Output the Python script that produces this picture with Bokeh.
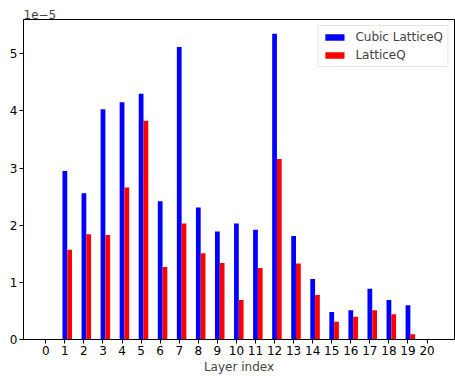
from bokeh.plotting import figure
from bokeh.models import ColumnDataSource, FixedTicker, CustomJSTickFormatter, Legend, LegendItem, Range1d
from bokeh.embed import file_html
from bokeh.resources import INLINE

layers = list(range(1, 20))
cubic_latticeq = [2.95e-5, 2.56e-5, 4.03e-5, 4.15e-5, 4.30e-5, 2.42e-5, 5.12e-5, 2.31e-5, 1.89e-5,
                  2.03e-5, 1.92e-5, 5.35e-5, 1.81e-5, 1.06e-5, 0.48e-5, 0.51e-5, 0.89e-5, 0.69e-5, 0.60e-5]
latticeq = [1.57e-5, 1.84e-5, 1.83e-5, 2.66e-5, 3.83e-5, 1.27e-5, 2.03e-5, 1.51e-5, 1.34e-5,
            0.69e-5, 1.25e-5, 3.16e-5, 1.33e-5, 0.78e-5, 0.31e-5, 0.40e-5, 0.51e-5, 0.44e-5, 0.09e-5]
x_ticks = list(range(0, 21))
y_ticks = [0, 1e-5, 2e-5, 3e-5, 4e-5, 5e-5]

bar_w = 0.25
src = ColumnDataSource(dict(
    x=layers,
    x2=[v + bar_w for v in layers],
    cubic=cubic_latticeq,
    lq=latticeq,
))

FONT = "DejaVu Sans"
FS = "12px"
p = figure(width=455, height=376, output_backend="svg", toolbar_location=None,
           x_range=Range1d(-1.17, 21.44), y_range=Range1d(0, 5.60e-5),
           min_border_left=23, min_border_right=1, min_border_top=19, min_border_bottom=36)
p.xgrid.visible = False
p.ygrid.visible = False
p.outline_line_color = "black"
p.outline_line_width = 1
p.background_fill_color = "white"
p.border_fill_color = "white"

r1 = p.vbar(x="x", top="cubic", width=bar_w, source=src, fill_color="#0000ff", line_color=None)
r2 = p.vbar(x="x2", top="lq", width=bar_w, source=src, fill_color="#ff0000", line_color=None)

for ax in (p.xaxis[0], p.yaxis[0]):
    ax.axis_line_color = "black"
    ax.major_tick_line_color = "black"
    ax.minor_tick_line_color = None
    ax.major_tick_out = 4
    ax.major_tick_in = 0
    ax.major_label_standoff = 2
    ax.major_label_text_font = FONT
    ax.major_label_text_font_size = FS
    ax.major_label_text_color = "black"

p.xaxis.ticker = FixedTicker(ticks=x_ticks)
p.yaxis.ticker = FixedTicker(ticks=y_ticks)
p.yaxis.formatter = CustomJSTickFormatter(code="return (tick/1e-5).toFixed(0);")
p.xaxis.axis_label = "Layer index"
p.xaxis.axis_label_text_font = FONT
p.xaxis.axis_label_text_font_size = FS
p.xaxis.axis_label_text_font_style = "normal"
p.xaxis.axis_label_standoff = 2

p.title.text = "1e\u22125"
p.title.align = "left"
p.title.text_font = FONT
p.title.text_font_size = FS
p.title.text_font_style = "normal"
p.title.standoff = 2
p.title.offset = 0

legend = Legend(items=[LegendItem(label="Cubic LatticeQ", renderers=[r1]),
                       LegendItem(label="LatticeQ", renderers=[r2])],
                location="top_right", margin=6, padding=4, spacing=4,
                glyph_width=24, glyph_height=8, label_height=14, label_standoff=9,
                label_text_font=FONT, label_text_font_size=FS,
                border_line_color="#cccccc", border_line_width=1)
p.add_layout(legend)

open("out.html", "w").write(file_html(p, INLINE))
